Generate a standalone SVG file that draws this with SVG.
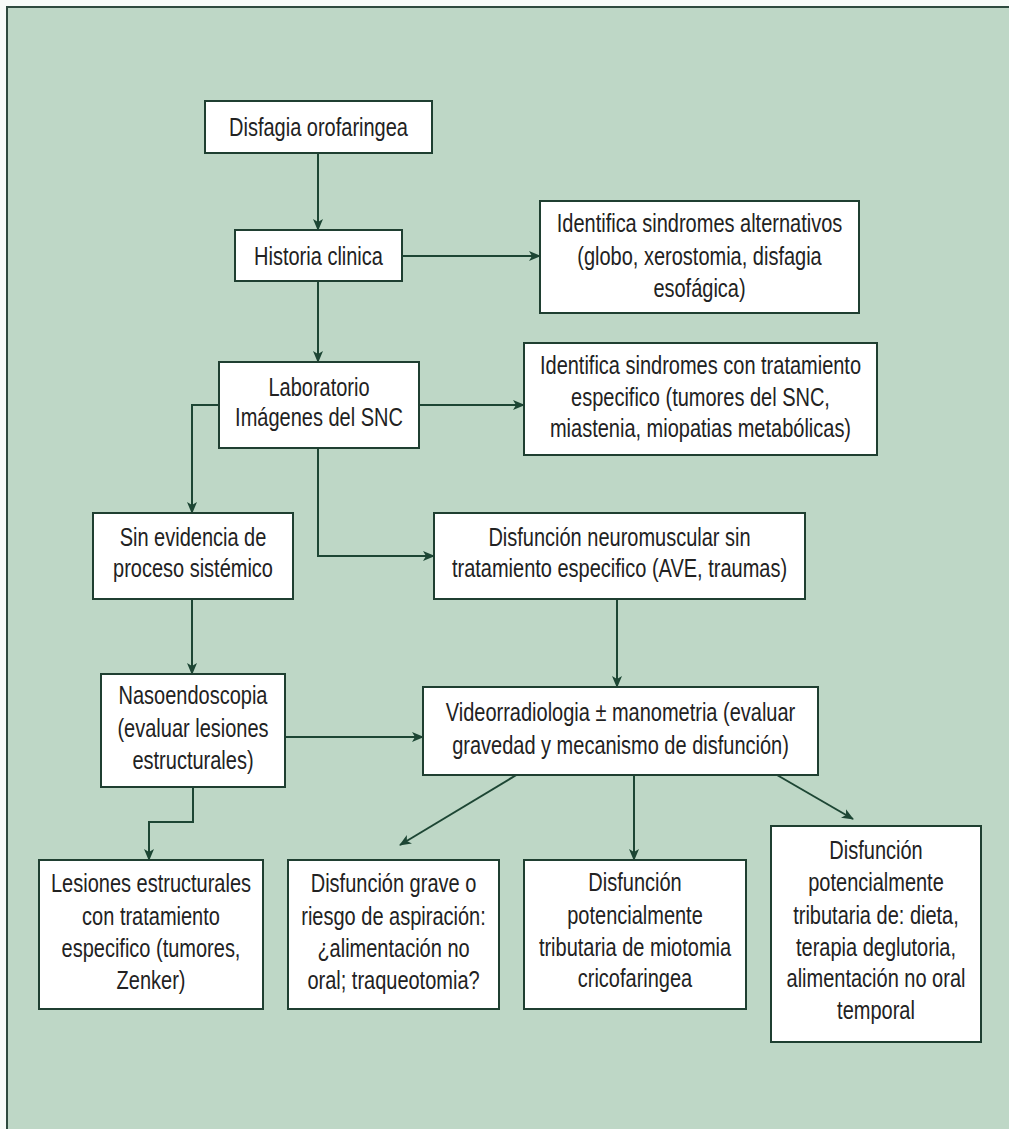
<svg xmlns="http://www.w3.org/2000/svg" width="1009" height="1129" viewBox="0 0 1009 1129">
<style>
.bg{fill:#bed7c6}
.frame{stroke:#2e4a3e;stroke-width:2;fill:none}
.box{fill:#ffffff;stroke:#1f3f31;stroke-width:2}
.lbl{font-family:"Liberation Sans",Arial,sans-serif;font-size:25px;fill:#222;text-anchor:middle}
.con{fill:none;stroke:#1d4634;stroke-width:2;marker-end:url(#ah)}
</style>
<defs>
<marker id="ah" markerUnits="userSpaceOnUse" markerWidth="12" markerHeight="10" refX="11" refY="5" orient="auto">
<path d="M0,0 L12,5 L0,10 L3,5 z" fill="#1d4634"/>
</marker>
</defs>
<rect width="1009" height="1129" fill="#f7fbf8"/>
<rect class="bg" x="7" y="7" width="1002" height="1122"/>
<path class="frame" d="M7,1129 V7 H1009"/>

<g id="connectors">
<path class="con" d="M318,153 V230"/>
<path class="con" d="M402,256 H540"/>
<path class="con" d="M318,281 V362"/>
<path class="con" d="M419,405 H524"/>
<path class="con" d="M219,405 H192 V513"/>
<path class="con" d="M318,448 V556 H434"/>
<path class="con" d="M192,599 V674"/>
<path class="con" d="M617,599 V687"/>
<path class="con" d="M285,737 H423"/>
<path class="con" d="M193,787 V822 H149 V860"/>
<path class="con" d="M518,774 L400,845"/>
<path class="con" d="M634,775 V860"/>
<path class="con" d="M777,775 L853,819"/>
</g>

<g id="n1">
<rect class="box" x="205" y="101" width="227" height="52"/>
<text class="lbl" transform="translate(318.5,136) scale(0.8,1)"><tspan x="0">Disfagia orofaringea</tspan></text>
</g>
<g id="n2">
<rect class="box" x="235" y="230" width="167" height="51"/>
<text class="lbl" transform="translate(318.5,265) scale(0.8,1)"><tspan x="0">Historia clinica</tspan></text>
</g>
<g id="n3">
<rect class="box" x="540" y="201" width="319" height="112"/>
<text class="lbl" transform="translate(699.5,232) scale(0.8,1)"><tspan x="0">Identifica sindromes alternativos</tspan><tspan x="0" dy="33">(globo, xerostomia, disfagia</tspan><tspan x="0" dy="32">esofágica)</tspan></text>
</g>
<g id="n4">
<rect class="box" x="524" y="343" width="353" height="112"/>
<text class="lbl" transform="translate(700.5,374) scale(0.8,1)"><tspan x="0">Identifica sindromes con tratamiento</tspan><tspan x="0" dy="32">especifico (tumores del SNC,</tspan><tspan x="0" dy="31">miastenia, miopatias metabólicas)</tspan></text>
</g>
<g id="n5">
<rect class="box" x="219" y="362" width="200" height="86"/>
<text class="lbl" transform="translate(319,396) scale(0.8,1)"><tspan x="0">Laboratorio</tspan><tspan x="0" dy="30">Imágenes del SNC</tspan></text>
</g>
<g id="n6">
<rect class="box" x="93" y="513" width="200" height="86"/>
<text class="lbl" transform="translate(193,546) scale(0.8,1)"><tspan x="0">Sin evidencia de</tspan><tspan x="0" dy="31">proceso sistémico</tspan></text>
</g>
<g id="n7">
<rect class="box" x="434" y="513" width="371" height="86"/>
<text class="lbl" transform="translate(619.5,546) scale(0.8,1)"><tspan x="0">Disfunción neuromuscular sin</tspan><tspan x="0" dy="31">tratamiento especifico (AVE, traumas)</tspan></text>
</g>
<g id="n8">
<rect class="box" x="423" y="687" width="395" height="88"/>
<text class="lbl" transform="translate(620.5,721) scale(0.8,1)"><tspan x="0">Videorradiologia ± manometria (evaluar</tspan><tspan x="0" dy="33">gravedad y mecanismo de disfunción)</tspan></text>
</g>
<g id="n9">
<rect class="box" x="101" y="674" width="184" height="113"/>
<text class="lbl" transform="translate(193,704) scale(0.8,1)"><tspan x="0">Nasoendoscopia</tspan><tspan x="0" dy="33">(evaluar lesiones</tspan><tspan x="0" dy="32">estructurales)</tspan></text>
</g>
<g id="n10">
<rect class="box" x="39" y="860" width="224" height="149"/>
<text class="lbl" transform="translate(151,892) scale(0.8,1)"><tspan x="0">Lesiones estructurales</tspan><tspan x="0" dy="33">con tratamiento</tspan><tspan x="0" dy="32">especifico (tumores,</tspan><tspan x="0" dy="32">Zenker)</tspan></text>
</g>
<g id="n11">
<rect class="box" x="288" y="860" width="211" height="149"/>
<text class="lbl" transform="translate(393.5,892) scale(0.8,1)"><tspan x="0">Disfunción grave o</tspan><tspan x="0" dy="33">riesgo de aspiración:</tspan><tspan x="0" dy="32">¿alimentación no</tspan><tspan x="0" dy="32">oral; traqueotomia?</tspan></text>
</g>
<g id="n12">
<rect class="box" x="524" y="860" width="222" height="149"/>
<text class="lbl" transform="translate(635,891) scale(0.8,1)"><tspan x="0">Disfunción</tspan><tspan x="0" dy="33">potencialmente</tspan><tspan x="0" dy="32">tributaria de miotomia</tspan><tspan x="0" dy="31">cricofaringea</tspan></text>
</g>
<g id="n13">
<rect class="box" x="771" y="826" width="210" height="216"/>
<text class="lbl" transform="translate(876,859) scale(0.8,1)"><tspan x="0">Disfunción</tspan><tspan x="0" dy="32">potencialmente</tspan><tspan x="0" dy="33">tributaria de: dieta,</tspan><tspan x="0" dy="32">terapia deglutoria,</tspan><tspan x="0" dy="31">alimentación no oral</tspan><tspan x="0" dy="32">temporal</tspan></text>
</g>
</svg>
